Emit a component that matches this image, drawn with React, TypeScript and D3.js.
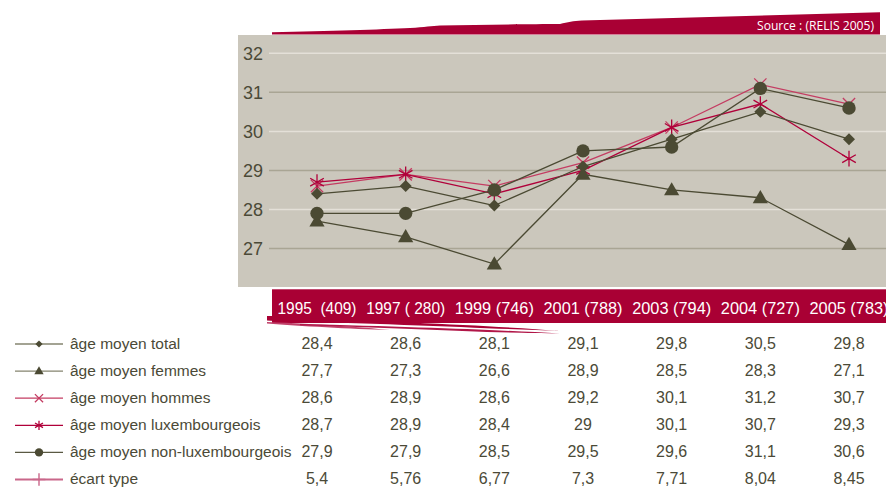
import React from "react";
import * as d3 from "d3";

const years = ["1995", "1997", "1999", "2001", "2003", "2004", "2005"];
const yearLabels = ["1995  (409)", "1997 ( 280)", "1999 (746)", "2001 (788)", "2003 (794)", "2004 (727)", "2005 (783)"];
const totalVals = [28.4, 28.6, 28.1, 29.1, 29.8, 30.5, 29.8];
const femmesVals = [27.7, 27.3, 26.6, 28.9, 28.5, 28.3, 27.1];
const hommesVals = [28.6, 28.9, 28.6, 29.2, 30.1, 31.2, 30.7];
const luxVals = [28.7, 28.9, 28.4, 29, 30.1, 30.7, 29.3];
const nonLuxVals = [27.9, 27.9, 28.5, 29.5, 29.6, 31.1, 30.6];
const ecartVals = [5.4, 5.76, 6.77, 7.3, 7.71, 8.04, 8.45];
const yTicks = [27, 28, 29, 30, 31, 32];
const tableText = [
  ["28,4", "28,6", "28,1", "29,1", "29,8", "30,5", "29,8"],
  ["27,7", "27,3", "26,6", "28,9", "28,5", "28,3", "27,1"],
  ["28,6", "28,9", "28,6", "29,2", "30,1", "31,2", "30,7"],
  ["28,7", "28,9", "28,4", "29", "30,1", "30,7", "29,3"],
  ["27,9", "27,9", "28,5", "29,5", "29,6", "31,1", "30,6"],
  ["5,4", "5,76", "6,77", "7,3", "7,71", "8,04", "8,45"],
];
const seriesNames = [
  "âge moyen total",
  "âge moyen femmes",
  "âge moyen hommes",
  "âge moyen luxembourgeois",
  "âge moyen non-luxembourgeois",
  "écart type",
];

const RED = "#a90034";
const OLIVE = "#4b4a33";
const TEXT = "#4b4a37";
const FONT = "'Liberation Sans', Arial, sans-serif";

type Series = {
  name: string;
  values: number[];
  line: string;
  legendLine: string;
  marker: "diamond" | "triangle" | "times" | "asterisk" | "circle" | "plus";
  plotted: boolean;
};

const series: Series[] = [
  { name: seriesNames[0], values: totalVals, line: OLIVE, legendLine: "#85846f", marker: "diamond", plotted: true },
  { name: seriesNames[1], values: femmesVals, line: OLIVE, legendLine: "#85846f", marker: "triangle", plotted: true },
  { name: seriesNames[2], values: hommesVals, line: "#c43c62", legendLine: "#c43c62", marker: "times", plotted: true },
  { name: seriesNames[3], values: luxVals, line: "#b0003a", legendLine: "#b0003a", marker: "asterisk", plotted: true },
  { name: seriesNames[4], values: nonLuxVals, line: OLIVE, legendLine: "#5a5943", marker: "circle", plotted: true },
  { name: seriesNames[5], values: ecartVals, line: "#c45a7c", legendLine: "#c9678a", marker: "plus", plotted: false },
];

function Marker({ kind, x, y, big, color }: { kind: string; x: number; y: number; big: boolean; color: string }) {
  if (kind === "diamond") {
    const p = d3.symbol(d3.symbolSquare, big ? 72 : 26)();
    return <path d={p!} transform={`translate(${x},${y}) rotate(45)`} fill={OLIVE} />;
  }
  if (kind === "triangle") {
    const p = d3.symbol(d3.symbolTriangle, big ? 100 : 38)();
    return <path d={p!} transform={`translate(${x},${y + (big ? 1 : 0.5)})`} fill={OLIVE} />;
  }
  if (kind === "circle") {
    const p = d3.symbol(d3.symbolCircle, big ? 140 : 55)();
    return <path d={p!} transform={`translate(${x},${y})`} fill={OLIVE} />;
  }
  if (kind === "times") {
    const p = d3.symbol(d3.symbolTimes, big ? 100 : 45)();
    return <path d={p!} transform={`translate(${x},${y})`} fill="none" stroke={color} strokeWidth={1.3} />;
  }
  if (kind === "asterisk") {
    const p = d3.symbol(d3.symbolAsterisk, big ? 175 : 60)();
    return <path d={p!} transform={`translate(${x},${y})`} fill="none" stroke={color} strokeWidth={1.3} />;
  }
  const p = d3.symbol(d3.symbolPlus, big ? 100 : 55)();
  return <path d={p!} transform={`translate(${x},${y})`} fill="none" stroke={color} strokeWidth={1.4} />;
}

export default function App() {
  const W = 886;
  const H = 488;
  const x = d3.scalePoint<string>().domain(years).range([317, 849]);
  const y = d3.scaleLinear().domain([27, 32]).range([248.5, 53.3]);
  const line = d3
    .line<number>()
    .x((_, i) => x(years[i])!)
    .y((d) => y(d));

  const drawOrder = [2, 3, 0, 1, 4];
  const rowBase = d3.scaleLinear().domain([0, 5]).range([348.5, 484]);

  return (
    <div style={{ position: "absolute", left: 0, top: 0 }}>
      <svg width={W} height={H} style={{ display: "block" }} fontFamily={FONT}>
        <rect width={W} height={H} fill="#ffffff" />
        {/* top ribbon */}
        <path
          d="M272,34.5 L272,32.2 C330,31 380,29.5 410,28 C425,27 432,26 440,25.5 C480,24.5 530,24.2 560,24 C568,22.5 573,21 582,20.6 L880,12.3 L880,34.5 Z"
          fill={RED}
        />
        <text
          x={874}
          y={29.5}
          textAnchor="end"
          fill="#ffffff"
          fontSize={12.5}
          fontFamily="'Open Sans', 'Liberation Sans', sans-serif"
          textLength={117}
          lengthAdjust="spacingAndGlyphs"
        >
          Source : (RELIS 2005)
        </text>
        {/* plot panel */}
        <rect x={238} y={35} width={W - 238} height={252} fill="#cbc7bc" />
        {yTicks.map((t) => (
          <g key={t}>
            <line
              x1={269}
              x2={W}
              y1={y(t)}
              y2={y(t)}
              stroke={t % 2 === 0 ? "#e4e0d8" : "#a9a594"}
              strokeWidth={1.5}
            />
            <text x={263} y={y(t)} dy="0.36em" textAnchor="end" fontSize={18} fill={TEXT}>
              {t}
            </text>
          </g>
        ))}
        {drawOrder.map((si) => {
          const s = series[si];
          return (
            <g key={s.name}>
              <path d={line(s.values)!} fill="none" stroke={s.line} strokeWidth={1.3} />
              {s.values.map((v, i) => (
                <Marker key={i} kind={s.marker} x={x(years[i])!} y={y(v)} big={true} color={s.line} />
              ))}
            </g>
          );
        })}
        {/* bottom ribbon */}
        <rect x={272} y={289.3} width={W - 272} height={33.7} fill={RED} />
        <path d="M267,316 L272,316 L272,320.5 L267,320 Z" fill={RED} />
        <path d="M267,317 L300,318 C400,322 500,326 560,331 C500,329 400,324 267,320.5 Z" fill={RED} />
        <path d="M267,322 C320,324 360,327 390,330 C350,329 300,326 267,323.5 Z" fill="#c1416a" />
        <path d="M300,324 C420,327 500,330 560,333.5 C490,333 400,328 300,325.2 Z" fill="#b11648" />
        {yearLabels.map((lab, i) => (
          <text
            key={lab}
            x={x(years[i])!}
            y={314}
            textAnchor="middle"
            fill="#ffffff"
            fontSize={16}
            textLength={79}
            lengthAdjust="spacingAndGlyphs"
            style={{ whiteSpace: "pre" }}
          >
            {lab}
          </text>
        ))}
        {/* table */}
        {series.map((s, r) => {
          const by = rowBase(r);
          const my = by - 4.5;
          return (
            <g key={s.name}>
              <line x1={15} x2={63} y1={my} y2={my} stroke={s.legendLine} strokeWidth={s.marker === "plus" ? 2.2 : 1.3} />
              <Marker kind={s.marker} x={39} y={my} big={false} color={s.legendLine} />
              <text x={70} y={by} fontSize={15.5} fill={TEXT}>
                {s.name}
              </text>
              {tableText[r].map((t, i) => (
                <text key={i} x={x(years[i])!} y={by} textAnchor="middle" fontSize={16} fill={TEXT}>
                  {t}
                </text>
              ))}
            </g>
          );
        })}
      </svg>
    </div>
  );
}
